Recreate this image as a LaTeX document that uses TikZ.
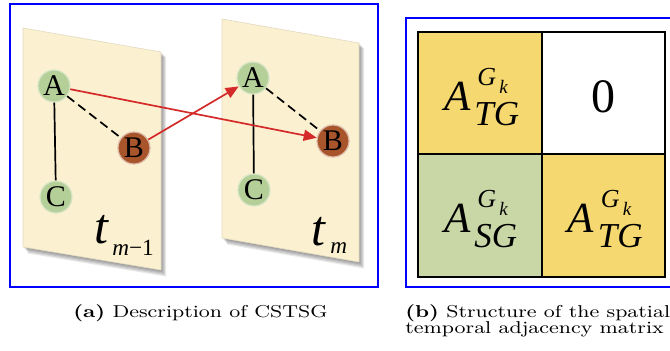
\documentclass[tikz,border=0pt]{standalone}
\usepackage{fontspec}
\usepackage{graphicx}
\usetikzlibrary{arrows.meta}
\newfontfamily\tms{Liberation Serif}
\newfontfamily\tmsi{Liberation Serif Italic}
\definecolor{cream}{HTML}{FBF0D0}
\definecolor{ngreen}{HTML}{B5CF98}
\definecolor{nbrown}{HTML}{A9552B}
\definecolor{ared}{HTML}{D42A2A}
\definecolor{myyellow}{HTML}{F5D870}
\definecolor{mygreen}{HTML}{C9D6A6}
\tikzset{
  frame/.style={draw=blue, line width=1pt},
  plane/.style={fill=cream, draw=cream!80!gray, line width=0.3pt},
  pshadow/.style={fill=black, opacity=0.09},
  gnode/.style={circle, fill=ngreen, draw=ngreen!55!white, line width=0.6pt, minimum size=16pt, inner sep=0pt, font=\tms\fontsize{15}{15}\selectfont},
  bnode/.style={gnode, fill=nbrown, draw=nbrown!40!white},
  link/.style={black, line width=0.85pt},
  dlink/.style={link, dash pattern=on 4.5pt off 2.5pt},
  tarrow/.style={ared, line width=0.85pt, -{Triangle[length=6.5pt,width=5.5pt]}},
  cell/.style={draw=black, line width=0.9pt},
  bigt/.style={anchor=base west, inner sep=0pt, font=\tmsi\fontsize{25}{25}\selectfont},
  subt/.style={anchor=base west, inner sep=0pt, font=\tms\fontsize{11.6}{12}\selectfont},
  mA/.style={anchor=base west, inner sep=0pt, font=\tmsi\fontsize{21.5}{21.5}\selectfont},
  mG/.style={anchor=base west, inner sep=0pt, font=\tmsi\fontsize{13}{13}\selectfont},
  mk/.style={anchor=base west, inner sep=0pt, font=\tmsi\fontsize{9.5}{9.5}\selectfont},
  mS/.style={anchor=base west, inner sep=0pt, font=\tmsi\fontsize{17.5}{17.5}\selectfont},
  capt/.style={anchor=base west, inner sep=0pt, font=\fontsize{8.6}{8}\selectfont},
}
\newcommand{\mlab}[4]{%
  \node[mA] (#4A) at ({#1-36},{#2+17}) {A};
  \node[mG] (#4G) at ({#1-3},{#2-8}) {G};
  \node[mk] (#4k) at ({#1+19},{#2}) {k};
  \node[mS] (#4S) at ({#1-6},{#2+32}) {#3};
}
\begin{document}
\begin{tikzpicture}[x=0.5pt,y=-0.5pt]
\useasboundingbox (0,0) rectangle (670,350);
% frames
\draw[frame] (10,4) rectangle (378,287);
\draw[frame] (406,18) rectangle (680,287);
% plane shadows
\foreach \d in {1,2,3,4,5}{
  \fill[pshadow] ({23+\d},{28+\d}) -- ({161+\d},{52+\d}) -- ({161+\d},{270+\d*1.3}) -- ({23+\d},{247+\d*1.3}) -- cycle;
  \fill[pshadow] ({222+\d},{19+\d}) -- ({359+\d},{43+\d}) -- ({359+\d},{262+\d*1.3}) -- ({222+\d},{238+\d*1.3}) -- cycle;
}
\fill[plane] (23,28) -- (161,52) -- (161,270) -- (23,247) -- cycle;
\fill[plane] (222,19) -- (359,43) -- (359,262) -- (222,238) -- cycle;
% nodes
\node[gnode] (A1) at (54,86) {A};
\node[bnode] (B1) at (134,148) {B};
\node[gnode] (C1) at (56,197) {C};
\node[gnode] (A2) at (253,78) {A};
\node[bnode] (B2) at (333,141) {B};
\node[gnode] (C2) at (254,190) {C};
\draw[link] (A1) -- (C1);
\draw[dlink] (A1) -- (B1);
\draw[link] (A2) -- (C2);
\draw[dlink] (A2) -- (B2);
\draw[tarrow] (A1) -- (B2);
\draw[tarrow] (B1) -- (A2);
% time labels
\node[bigt] (t1) at (94,243) {t};
\node[subt] (s1) at (112,255) {{\tmsi m}−1};
\node[bigt] (t2) at (311,245) {t};
\node[subt] (s2) at (330,253) {{\tmsi m}};
% matrix
\fill[myyellow] (418,32) rectangle (542,154);
\fill[white] (542,32) rectangle (665,154);
\fill[mygreen] (418,154) rectangle (542,277);
\fill[myyellow] (542,154) rectangle (665,277);
\draw[cell] (418,32) rectangle (665,277);
\draw[cell] (542,32) -- (542,277);
\draw[cell] (418,154) -- (665,154);
\mlab{480}{93}{TG}{p}
\mlab{480}{215.5}{SG}{q}
\mlab{603.5}{215.5}{TG}{r}
\node[anchor=base, inner sep=0pt, font=\tms\fontsize{24}{24}\selectfont] (zero) at (603,112) {0};
% captions
\node[capt] (capa) at (73,317) {\scalebox{1.24}[1]{\textbf{(a)} Description of CSTSG}};
\node[capt] (capb) at (405,317) {\scalebox{1.24}[1]{\begin{tabular}[t]{@{}l@{}}\textbf{(b)} Structure of the spatial\\ temporal adjacency matrix\end{tabular}}};
\end{tikzpicture}
\end{document}
